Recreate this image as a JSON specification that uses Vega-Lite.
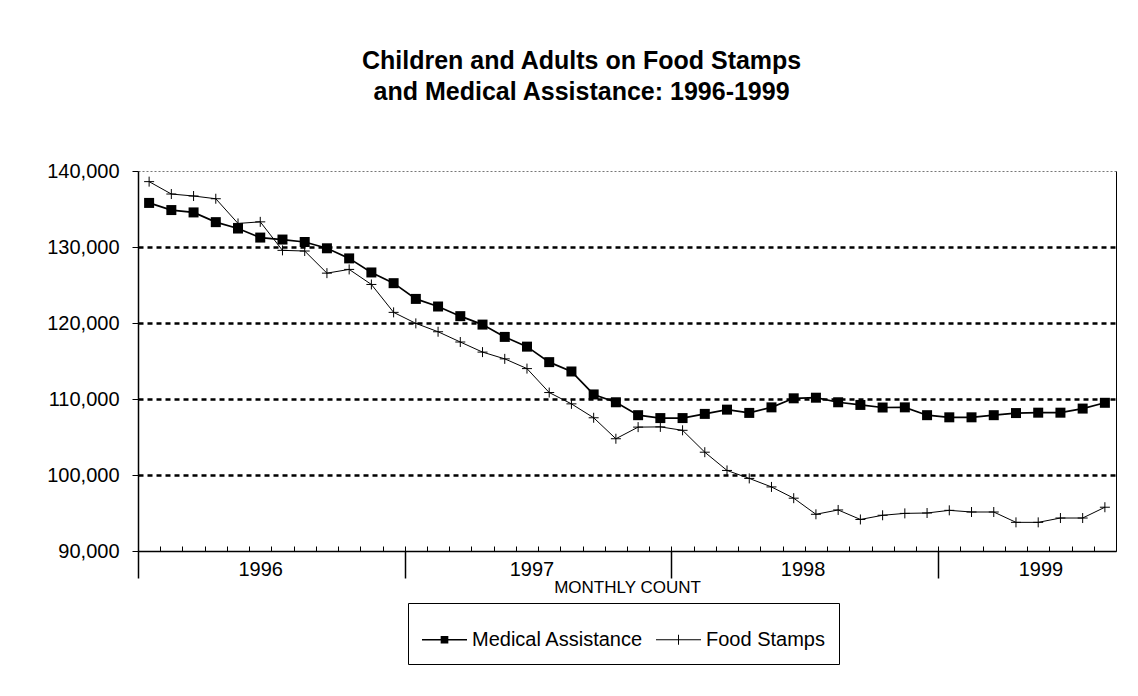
{
  "$schema": "https://vega.github.io/schema/vega-lite/v6.json",
  "width": 978,
  "height": 380,
  "autosize": {"type": "none"},
  "padding": {"left": 138, "top": 171, "right": 22, "bottom": 145},
  "background": "white",
  "config": {"view": {"stroke": null}, "font": "Liberation Sans"},
  "title": {
    "text": ["Children and Adults on Food Stamps", "and Medical Assistance: 1996-1999"],
    "font": "Liberation Sans",
    "fontSize": 25,
    "fontWeight": "bold",
    "color": "black",
    "anchor": "middle",
    "frame": "bounds",
    "offset": 56,
    "lineHeight": 31
  },
  "data": {
    "values": [
      {"month": 1, "series": "Medical Assistance", "value": 135800},
      {"month": 2, "series": "Medical Assistance", "value": 134860},
      {"month": 3, "series": "Medical Assistance", "value": 134550},
      {"month": 4, "series": "Medical Assistance", "value": 133270},
      {"month": 5, "series": "Medical Assistance", "value": 132430},
      {"month": 6, "series": "Medical Assistance", "value": 131240},
      {"month": 7, "series": "Medical Assistance", "value": 130980},
      {"month": 8, "series": "Medical Assistance", "value": 130660},
      {"month": 9, "series": "Medical Assistance", "value": 129830},
      {"month": 10, "series": "Medical Assistance", "value": 128500},
      {"month": 11, "series": "Medical Assistance", "value": 126650},
      {"month": 12, "series": "Medical Assistance", "value": 125240},
      {"month": 13, "series": "Medical Assistance", "value": 123170},
      {"month": 14, "series": "Medical Assistance", "value": 122170},
      {"month": 15, "series": "Medical Assistance", "value": 120900},
      {"month": 16, "series": "Medical Assistance", "value": 119790},
      {"month": 17, "series": "Medical Assistance", "value": 118170},
      {"month": 18, "series": "Medical Assistance", "value": 116890},
      {"month": 19, "series": "Medical Assistance", "value": 114850},
      {"month": 20, "series": "Medical Assistance", "value": 113620},
      {"month": 21, "series": "Medical Assistance", "value": 110600},
      {"month": 22, "series": "Medical Assistance", "value": 109570},
      {"month": 23, "series": "Medical Assistance", "value": 107870},
      {"month": 24, "series": "Medical Assistance", "value": 107490},
      {"month": 25, "series": "Medical Assistance", "value": 107490},
      {"month": 26, "series": "Medical Assistance", "value": 108040},
      {"month": 27, "series": "Medical Assistance", "value": 108600},
      {"month": 28, "series": "Medical Assistance", "value": 108170},
      {"month": 29, "series": "Medical Assistance", "value": 108900},
      {"month": 30, "series": "Medical Assistance", "value": 110090},
      {"month": 31, "series": "Medical Assistance", "value": 110170},
      {"month": 32, "series": "Medical Assistance", "value": 109570},
      {"month": 33, "series": "Medical Assistance", "value": 109220},
      {"month": 34, "series": "Medical Assistance", "value": 108880},
      {"month": 35, "series": "Medical Assistance", "value": 108900},
      {"month": 36, "series": "Medical Assistance", "value": 107870},
      {"month": 37, "series": "Medical Assistance", "value": 107590},
      {"month": 38, "series": "Medical Assistance", "value": 107590},
      {"month": 39, "series": "Medical Assistance", "value": 107870},
      {"month": 40, "series": "Medical Assistance", "value": 108150},
      {"month": 41, "series": "Medical Assistance", "value": 108200},
      {"month": 42, "series": "Medical Assistance", "value": 108200},
      {"month": 43, "series": "Medical Assistance", "value": 108740},
      {"month": 44, "series": "Medical Assistance", "value": 109500},
      {"month": 1, "series": "Food Stamps", "value": 138600},
      {"month": 2, "series": "Food Stamps", "value": 136970},
      {"month": 3, "series": "Food Stamps", "value": 136710},
      {"month": 4, "series": "Food Stamps", "value": 136350},
      {"month": 5, "series": "Food Stamps", "value": 133100},
      {"month": 6, "series": "Food Stamps", "value": 133310},
      {"month": 7, "series": "Food Stamps", "value": 129560},
      {"month": 8, "series": "Food Stamps", "value": 129470},
      {"month": 9, "series": "Food Stamps", "value": 126560},
      {"month": 10, "series": "Food Stamps", "value": 127050},
      {"month": 11, "series": "Food Stamps", "value": 125070},
      {"month": 12, "series": "Food Stamps", "value": 121400},
      {"month": 13, "series": "Food Stamps", "value": 119950},
      {"month": 14, "series": "Food Stamps", "value": 118850},
      {"month": 15, "series": "Food Stamps", "value": 117500},
      {"month": 16, "series": "Food Stamps", "value": 116170},
      {"month": 17, "series": "Food Stamps", "value": 115280},
      {"month": 18, "series": "Food Stamps", "value": 114000},
      {"month": 19, "series": "Food Stamps", "value": 110850},
      {"month": 20, "series": "Food Stamps", "value": 109360},
      {"month": 21, "series": "Food Stamps", "value": 107530},
      {"month": 22, "series": "Food Stamps", "value": 104770},
      {"month": 23, "series": "Food Stamps", "value": 106300},
      {"month": 24, "series": "Food Stamps", "value": 106330},
      {"month": 25, "series": "Food Stamps", "value": 105880},
      {"month": 26, "series": "Food Stamps", "value": 103000},
      {"month": 27, "series": "Food Stamps", "value": 100600},
      {"month": 28, "series": "Food Stamps", "value": 99550},
      {"month": 29, "series": "Food Stamps", "value": 98430},
      {"month": 30, "series": "Food Stamps", "value": 96950},
      {"month": 31, "series": "Food Stamps", "value": 94830},
      {"month": 32, "series": "Food Stamps", "value": 95400},
      {"month": 33, "series": "Food Stamps", "value": 94150},
      {"month": 34, "series": "Food Stamps", "value": 94700},
      {"month": 35, "series": "Food Stamps", "value": 94950},
      {"month": 36, "series": "Food Stamps", "value": 95000},
      {"month": 37, "series": "Food Stamps", "value": 95350},
      {"month": 38, "series": "Food Stamps", "value": 95130},
      {"month": 39, "series": "Food Stamps", "value": 95130},
      {"month": 40, "series": "Food Stamps", "value": 93770},
      {"month": 41, "series": "Food Stamps", "value": 93770},
      {"month": 42, "series": "Food Stamps", "value": 94340},
      {"month": 43, "series": "Food Stamps", "value": 94340},
      {"month": 44, "series": "Food Stamps", "value": 95760}
    ]
  },
  "layer": [
    {
      "transform": [{"filter": "datum.series === 'Medical Assistance'"}],
      "mark": {"type": "line", "color": "black", "strokeWidth": 1.7},
      "encoding": {
        "x": {
          "field": "month", "type": "quantitative",
          "scale": {"domain": [0.5, 44.5], "nice": false, "zero": false},
          "axis": {
            "orient": "bottom",
            "values": [0.5,1.5,2.5,3.5,4.5,5.5,6.5,7.5,8.5,9.5,10.5,11.5,12.5,13.5,14.5,15.5,16.5,17.5,18.5,19.5,20.5,21.5,22.5,23.5,24.5,25.5,26.5,27.5,28.5,29.5,30.5,31.5,32.5,33.5,34.5,35.5,36.5,37.5,38.5,39.5,40.5,41.5,42.5,43.5,44.5],
            "labels": false, "ticks": true, "tickSize": -5, "tickColor": "black", "tickWidth": 1,
            "domain": true, "domainColor": "black", "domainWidth": 1.5, "grid": false, "title": null
          }
        },
        "y": {
          "field": "value", "type": "quantitative",
          "scale": {"domain": [90000, 140000], "nice": false, "zero": false},
          "axis": {
            "orient": "left",
            "values": [90000, 100000, 110000, 120000, 130000, 140000],
            "labelExpr": "format(datum.value, ',')",
            "labelFont": "Liberation Sans", "labelFontSize": 20, "labelColor": "black",
            "labelPadding": 13,
            "tickSize": 6, "tickColor": "black", "tickWidth": 1,
            "domain": true, "domainColor": "black", "domainWidth": 1.5,
            "grid": true,
            "gridColor": {"condition": {"test": "datum.value >= 140000", "value": "#777777"}, "value": "black"},
            "gridDash": {"condition": {"test": "datum.value >= 140000", "value": [2, 2]}, "value": [5, 4]},
            "gridWidth": {"condition": {"test": "datum.value >= 140000", "value": 1.2}, "value": 2.5},
            "gridOpacity": {"condition": {"test": "datum.value <= 90000", "value": 0}, "value": 1},
            "title": null
          }
        }
      }
    },
    {
      "transform": [{"filter": "datum.series === 'Food Stamps'"}],
      "mark": {"type": "line", "color": "black", "strokeWidth": 1},
      "encoding": {
        "x": {
          "field": "month", "type": "quantitative",
          "axis": {
            "orient": "bottom",
            "values": [0.5, 12.5, 24.5, 36.5],
            "labels": false, "ticks": true, "tickSize": 27, "tickColor": "black", "tickWidth": 1.5,
            "domain": false, "grid": false, "title": null
          }
        },
        "y": {
          "field": "value", "type": "quantitative",
          "axis": {
            "orient": "right", "labels": false, "ticks": false, "grid": false,
            "domain": true, "domainColor": "black", "domainWidth": 1, "title": null
          }
        }
      }
    },
    {
      "transform": [{"filter": "datum.series === 'Medical Assistance'"}],
      "mark": {"type": "point", "shape": "square", "filled": true, "color": "black", "size": 100, "opacity": 1},
      "encoding": {
        "x": {
          "field": "month", "type": "quantitative",
          "axis": {
            "orient": "bottom",
            "values": [6, 18.2, 30.4, 41.1],
            "labelExpr": "datum.value < 10 ? '1996' : datum.value < 20 ? '1997' : datum.value < 35 ? '1998' : '1999'",
            "labelFont": "Liberation Sans", "labelFontSize": 20, "labelColor": "black",
            "labelFlush": false, "labelOverlap": false, "labelPadding": 8,
            "ticks": false, "domain": false, "grid": false,
            "title": "MONTHLY COUNT",
            "titleFont": "Liberation Sans", "titleFontSize": 17, "titleFontWeight": "normal", "titleColor": "black",
            "titlePadding": 0
          }
        },
        "y": {"field": "value", "type": "quantitative", "axis": null}
      }
    },
    {
      "transform": [{"filter": "datum.series === 'Food Stamps'"}],
      "mark": {"type": "point", "shape": "M-1,0H1M0,-1V1", "filled": false, "stroke": "black", "strokeWidth": 1, "size": 100, "opacity": 1},
      "encoding": {
        "x": {"field": "month", "type": "quantitative", "axis": null},
        "y": {"field": "value", "type": "quantitative", "axis": null}
      }
    },
    {
      "transform": [{"filter": "datum.month < 0"}],
      "mark": {"type": "point", "filled": true, "color": "black", "opacity": 1},
      "encoding": {
        "x": {"field": "month", "type": "quantitative", "axis": null},
        "y": {"field": "value", "type": "quantitative", "axis": null},
        "shape": {
          "field": "series", "type": "nominal",
          "scale": {
            "domain": ["Medical Assistance", "Food Stamps"],
            "range": [
              "M-1,-0.03H1V0.03H-1Z M-0.17,-0.17H0.17V0.17H-0.17Z",
              "M-1,-0.022H1V0.022H-1Z M-0.022,-0.22H0.022V0.22H-0.022Z"
            ]
          },
          "legend": {
            "orient": "none", "legendX": 270, "legendY": 432,
            "direction": "horizontal", "title": null,
            "strokeColor": "black", "padding": 14,
            "labelFont": "Liberation Sans", "labelFontSize": 20, "labelColor": "black",
            "labelLimit": 400,
            "labelOffset": 5, "columnPadding": 12,
            "symbolSize": 2025, "symbolFillColor": "black", "symbolOpacity": 1,
            "symbolStrokeWidth": 0
          }
        }
      }
    }
  ],
  "resolve": {"axis": {"x": "independent", "y": "independent"}}
}
